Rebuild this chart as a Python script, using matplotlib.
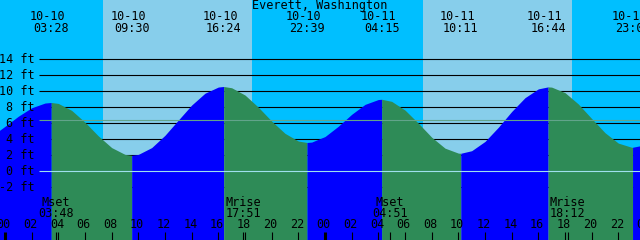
import numpy as np
import matplotlib.pyplot as plt

# tide height (ft) every hour, hour 0 = 10-10 00:00
hours = [-0.5] + list(range(48)) + [48]
tide_ft = [5.01,
           5.62, 6.88, 7.94, 8.53, 8.48, 7.61, 6.13, 4.42, 2.96, 2.11,
           2.11, 2.96, 4.50, 6.40, 8.28, 9.76, 10.53, 10.44, 9.53, 8.01,
           6.27, 4.74, 3.78, 3.65, 4.34, 5.63, 7.12, 8.36, 8.97, 8.74,
           7.65, 6.01, 4.26, 2.89, 2.27, 2.57, 3.73, 5.50, 7.47, 9.20,
           10.30, 10.52, 9.83, 8.41, 6.59, 4.82, 3.52, 3.00,
           3.31]

# high / low tides listed along the top
event_dates = ['10-10', '10-10', '10-10', '10-10', '10-11', '10-11', '10-11', '10-11']
event_times = ['03:28', '09:30', '16:24', '22:39', '04:15', '10:11', '16:44', '23:04']
event_ft = [8.6, 2.0, 10.6, 3.6, 9.0, 2.25, 10.55, 3.0]

# sun and moon
sunrise = ['10-10 07:22', '10-11 07:22']
sunset = ['10-10 18:32', '10-11 18:32']
moon_names = ['Mset', 'Mrise', 'Mset', 'Mrise']
moon_times = ['10-10 03:48', '10-10 17:51', '10-11 04:51', '10-11 18:12']

ft_levels = [14, 12, 10, 8, 6, 4, 2, 0, -2]
msl_ft = 6.4
title = 'Everett, Washington'

DAY, NIGHT = '#87ceeb', '#00bfff'
RISE, FALL = '#0000ff', '#2e8b57'
FONT = dict(family='DejaVu Sans Mono', fontsize=8.5, color='black')


def to_hours(stamp):
    date, hm = stamp.split()
    day = int(date.split('-')[1]) - 10
    h, m = hm.split(':')
    return day * 24 + int(h) + int(m) / 60


event_h = [to_hours(d + ' ' + t) for d, t in zip(event_dates, event_times)]

fig = plt.figure(figsize=(6.4, 2.4), dpi=100)
fig.patch.set_facecolor(NIGHT)
ax = fig.add_axes([0, 0, 1, 1])
x0, x1 = -0.375, 47.625
y0, y1 = -8.59, 21.41
ax.set_xlim(x0, x1)
ax.set_ylim(y0, y1)
ax.axis('off')

for r, s in zip(sunrise, sunset):
    ax.axvspan(to_hours(r), to_hours(s), color=DAY, lw=0, zorder=0)

ax.hlines(ft_levels, 2.55, x1, color='black', lw=0.8, zorder=1)

# tide curve, blue while rising, green while falling
t = np.array(hours + event_h, dtype=float)
h = np.array(tide_ft + event_ft, dtype=float)
order = np.argsort(t)
t, h = t[order], h[order]
bounds = [t[0]] + event_h + [t[-1]]
for i in range(len(bounds) - 1):
    m = (t >= bounds[i]) & (t <= bounds[i + 1])
    seg_h = h[m]
    color = RISE if seg_h[-1] > seg_h[0] else FALL
    ax.fill_between(t[m], y0, seg_h, color=color, lw=0, zorder=2)

ax.hlines(0, 2.55, x1, color='#9fe0ee', lw=0.8, zorder=3)
ax.hlines(msl_ft, 2.55, x1, color='#62a48b', lw=0.8, zorder=3)

for lvl in ft_levels:
    ax.text(2.25, lvl, f'{lvl} ft', ha='right', va='center', zorder=4, **FONT)

ax.text(23.6, 20.66, title, ha='center', va='center', zorder=4, **FONT)
for eh, d, tm in zip(event_h, event_dates, event_times):
    ax.text(eh - 0.25, 19.29, d, ha='center', va='center', zorder=4, **FONT)
    ax.text(eh, 17.79, tm, ha='center', va='center', zorder=4, **FONT)

for name, stamp in zip(moon_names, moon_times):
    mh = to_hours(stamp)
    ax.text(mh, -3.84, name, ha='center', va='center', zorder=4, **FONT)
    ax.text(mh, -5.25, stamp.split()[1], ha='center', va='center', zorder=4, **FONT)

# hour axis along the bottom
tick_h = np.arange(0, 49, 2)
for th in tick_h:
    ax.text(th - 0.1, -6.71, f'{th % 24:02d}', ha='center', va='center', zorder=4, **FONT)
minor = [th for th in tick_h if th % 24] + [to_hours(s) for s in moon_times]
ax.vlines(minor, y0, y0 + 1.0, color='black', lw=0.8, zorder=4)
ax.vlines([0, 24, 48], y0, y0 + 1.0, color='black', lw=2.2, zorder=4)

fig.savefig('out.png', dpi=100, facecolor=fig.get_facecolor())
